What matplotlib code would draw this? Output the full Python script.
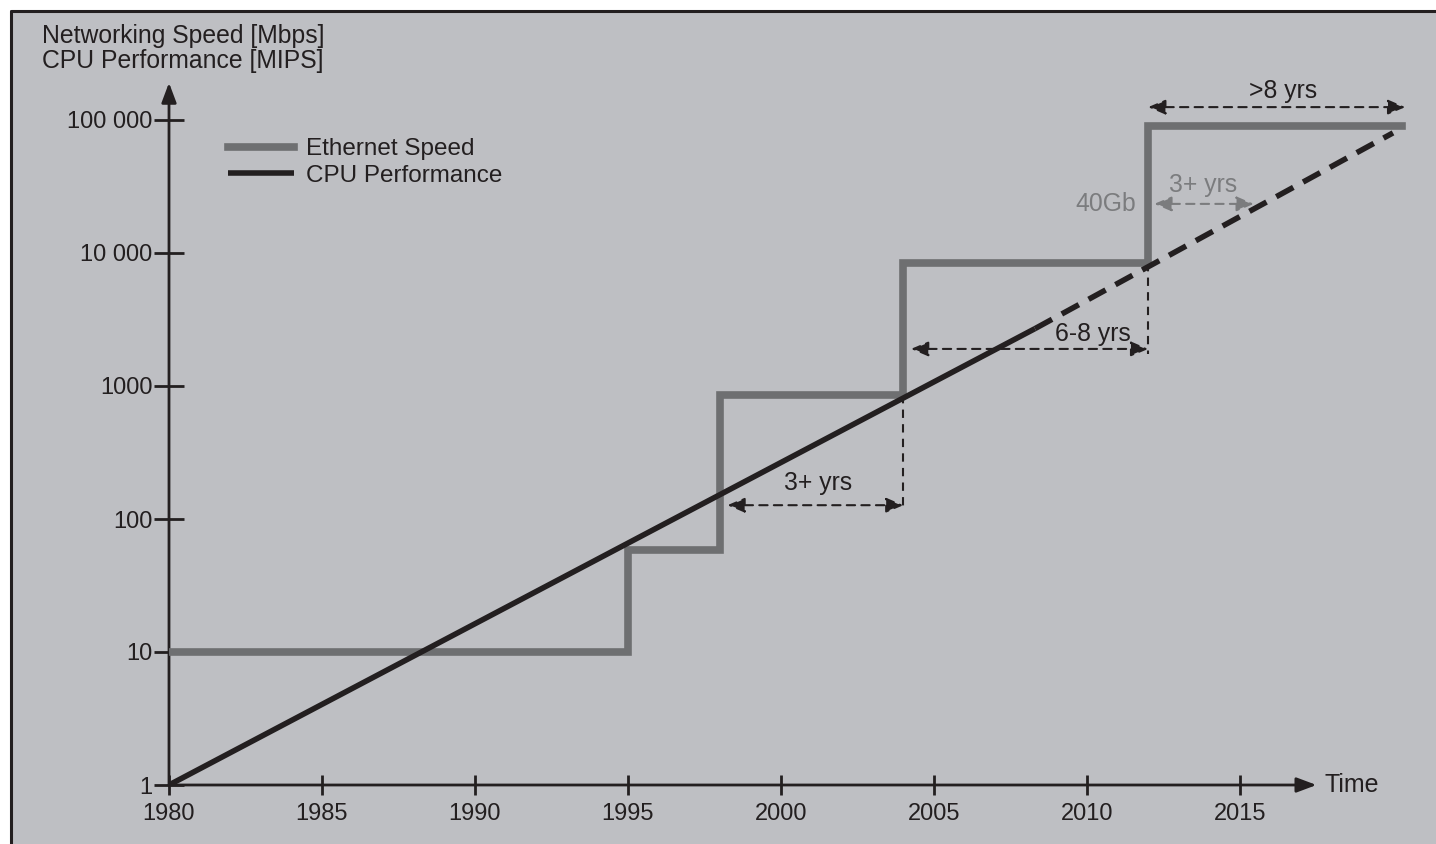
import numpy as np
import matplotlib.pyplot as plt
from matplotlib.patches import Rectangle
from matplotlib.lines import Line2D

plt.rcParams['font.family'] = ['Liberation Sans', 'DejaVu Sans']

# Ethernet speed steps (Mbps)
eth_years = [1980, 1995, 1998, 2004, 2012, 2020.3]
eth_speed = [10, 58, 850, 8400, 90000, 90000]

# CPU performance (MIPS): solid measured part, dashed projection
cpu_years = [1980, 2008.3]
cpu_perf = [1, 2700]
cpu_proj_years = [2008.3, 2020]
cpu_proj_perf = [2700, 80000]

y_ticks = [1, 10, 100, 1000, 10000, 100000]
y_labels = ['1', '10', '100', '1000', '10 000', '100 000']
x_ticks = [1980, 1985, 1990, 1995, 2000, 2005, 2010, 2015]

# gap annotations: (start, end, y, label, text x, text y)
gaps = [
    (1998.25, 2004, 127, '3+ yrs', 2001.2, 185),
    (2004.25, 2012, 1900, '6-8 yrs', 2010.2, 2450),
    (2012, 2020.4, 125000, '>8 yrs', 2016.4, 165000),
]

INK = '#231f20'
BG = '#bebfc3'
ETH = '#6e6f71'
LIGHT = '#7b7c7e'
FS = 17

W, H = 1436, 844
fig = plt.figure(figsize=(W / 100, H / 100), dpi=100, facecolor=BG)

# white margin at top/left, black frame line
fig.add_artist(Rectangle((0, 1 - 10 / H), 1, 10 / H, transform=fig.transFigure,
                         facecolor='white', edgecolor='none', lw=0, zorder=0))
fig.add_artist(Rectangle((0, 0), 10 / W, 1, transform=fig.transFigure,
                         facecolor='white', edgecolor='none', lw=0, zorder=0))
fig.add_artist(Line2D([11 / W, 11 / W, 1], [0, 1 - 11 / H, 1 - 11 / H],
                      transform=fig.transFigure, color=INK, lw=2.2, zorder=1))

left, bottom = 169, 844 - 785
xmin, xmax = 1980, 2021
ymax_dec = 5.5
ax = fig.add_axes([left / W, bottom / H, 41 * 30.6 / W, ymax_dec * 133 / H])
ax.set_facecolor('none')
ax.set_yscale('log')
ax.set_xlim(xmin, xmax)
ax.set_ylim(1, 10 ** ymax_dec)
for s in ax.spines.values():
    s.set_visible(False)

ax.set_yticks(y_ticks)
ax.set_yticklabels(y_labels)
ax.set_xticks(x_ticks)
ax.yaxis.set_minor_locator(plt.NullLocator())
ax.tick_params(axis='y', direction='inout', length=21, width=2, color=INK,
               labelsize=FS, labelcolor=INK, pad=1.5)
ax.tick_params(axis='x', direction='inout', length=14, width=2, color=INK,
               labelsize=FS, labelcolor=INK, pad=6)

# axes with arrow heads
arr = dict(arrowstyle='-|>,head_length=0.8,head_width=0.3', lw=2, color=INK,
           shrinkA=0, shrinkB=0, mutation_scale=15)
ax.annotate('', xy=(1980, 10 ** 5.28), xytext=(1980, 1), arrowprops=arr, annotation_clip=False)
ax.annotate('', xy=(2017.5, 1), xytext=(1980, 1), arrowprops=arr, annotation_clip=False)
ax.text(2017.75, 1, 'Time', fontsize=18, color=INK, va='center', ha='left')

# data lines
ax.plot(eth_years, eth_speed, drawstyle='steps-post', color=ETH, lw=5.5,
        solid_joinstyle='miter', label='Ethernet Speed', zorder=3)
ax.plot(cpu_years, cpu_perf, color=INK, lw=4, solid_capstyle='butt',
        label='CPU Performance', zorder=4)
ax.plot(cpu_proj_years, cpu_proj_perf, color=INK, lw=4, ls=(0, (3.5, 2)), zorder=4)

# vertical guides
ax.plot([2004, 2004], [850, 120], color=INK, lw=1.5, ls=(0, (4, 3)), zorder=2)
ax.plot([2012, 2012], [8400, 1750], color=INK, lw=1.5, ls=(0, (4, 3)), zorder=2)

darr = dict(arrowstyle='<|-|>,head_length=0.7,head_width=0.3', lw=1.5, color=INK,
            ls=(0, (4, 3)), shrinkA=0, shrinkB=0, mutation_scale=15)
for x0, x1, y, lab, tx, ty in gaps:
    ax.annotate('', xy=(x1, y), xytext=(x0, y), arrowprops=darr, annotation_clip=False)
    ax.text(tx, ty, lab, fontsize=17.8, color=INK, ha='center', va='center')

garr = dict(darr, color=LIGHT, lw=1.5)
ax.annotate('', xy=(2015.45, 23400), xytext=(2012.2, 23400), arrowprops=garr)
ax.text(2013.8, 32500, '3+ yrs', fontsize=17.8, color=LIGHT, ha='center', va='center')
ax.text(2011.6, 23400, '40Gb', fontsize=17.8, color=LIGHT, ha='right', va='center')

ax.legend(loc='upper left', bbox_to_anchor=(228 / W, 1 - 138 / H), bbox_transform=fig.transFigure,
          frameon=False, fontsize=17.5, handlelength=2.7, handletextpad=0.5,
          labelspacing=0.2, borderpad=0, borderaxespad=0, labelcolor=INK)

fig.text(42 / W, 1 - 24 / H, 'Networking Speed [Mbps]\nCPU Performance [MIPS]',
         fontsize=17.8, color=INK, ha='left', va='top', linespacing=1.05)

fig.savefig('out.png', dpi=100, facecolor=BG)
